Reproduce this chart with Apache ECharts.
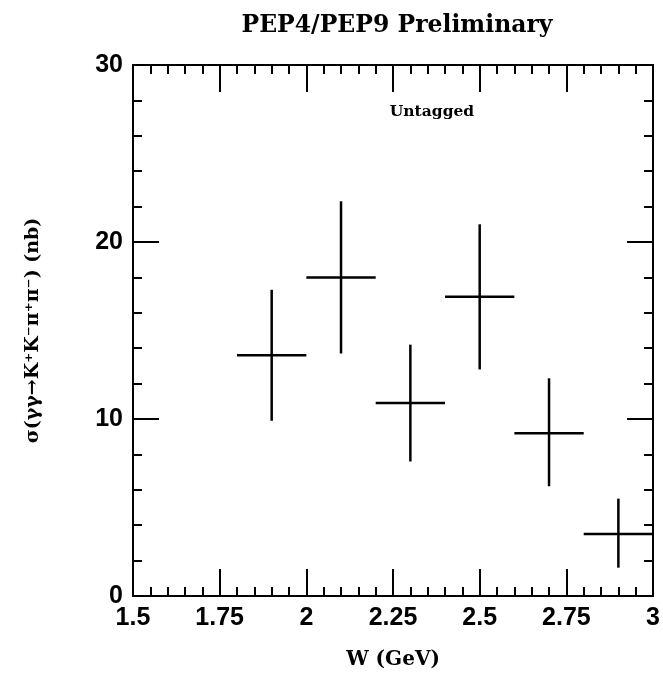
<!DOCTYPE html>
<html><head><meta charset="utf-8">
<script src="https://cdn.jsdelivr.net/npm/echarts@6/dist/echarts.min.js"></script>
<style>html,body{margin:0;padding:0;background:#fff}#c{width:663px;height:679px}</style>
</head><body><div id="c"></div>
<script>
// Data
const wCenter   = [1.9, 2.1, 2.3, 2.5, 2.7, 2.9];
const wLow      = [1.8, 2.0, 2.2, 2.4, 2.6, 2.8];
const wHigh     = [2.0, 2.2, 2.4, 2.6, 2.8, 3.0];
const sigma     = [13.6, 18.0, 10.9, 16.9, 9.2, 3.5];
const sigmaLow  = [9.9, 13.7, 7.6, 12.8, 6.2, 1.6];
const sigmaHigh = [17.3, 22.3, 14.2, 21.0, 12.3, 5.5];
const xTickLabels = ['1.5', '1.75', '2', '2.25', '2.5', '2.75', '3'];
const yTickLabels = ['0', '10', '20', '30'];

const chartTitle = 'PEP4/PEP9 Preliminary';
const xTitle = 'W (GeV)';
const yTitle = 'σ(γγ→K⁺K⁻π⁺π⁻) (nb)';
const tagText = 'Untagged';

const points = wCenter.map((w, i) => [w, sigma[i], wLow[i], wHigh[i], sigmaLow[i], sigmaHigh[i]]);

const serifBold = { fontFamily: 'DejaVu Serif', fontWeight: 'bold', color: '#000' };
const lineStyle = { color: '#000', width: 2 };

function xAxisDef(pos, showLabels) {
  return {
    type: 'value', position: pos, min: 1.5, max: 3, interval: 0.25,
    axisLine: { show: true, onZero: false, lineStyle },
    axisTick: { show: true, inside: true, length: 27, lineStyle },
    minorTick: { show: true, splitNumber: 5, length: 9, lineStyle },
    splitLine: { show: false }, minorSplitLine: { show: false },
    axisLabel: {
      show: showLabels, margin: 10, fontFamily: 'Liberation Sans', fontWeight: 'bold', fontSize: 25, color: '#000',
      formatter: v => xTickLabels[Math.round((v - 1.5) / 0.25)]
    },
    name: showLabels ? xTitle : '', nameLocation: 'middle', nameGap: 54,
    nameTextStyle: Object.assign({ fontSize: 20 }, serifBold)
  };
}
function yAxisDef(pos, showLabels) {
  return {
    type: 'value', position: pos, min: 0, max: 30, interval: 10,
    axisLine: { show: true, onZero: false, lineStyle },
    axisTick: { show: true, inside: true, length: 26, lineStyle },
    minorTick: { show: true, splitNumber: 5, length: 9, lineStyle },
    splitLine: { show: false }, minorSplitLine: { show: false },
    axisLabel: {
      show: showLabels, margin: 10, fontFamily: 'Liberation Sans', fontWeight: 'bold', fontSize: 25, color: '#000',
      formatter: v => yTickLabels[Math.round(v / 10)]
    },
    name: showLabels ? yTitle : '', nameLocation: 'middle', nameGap: 90, nameRotate: 90,
    nameTextStyle: Object.assign({ fontSize: 19 }, serifBold)
  };
}

const chart = echarts.init(document.getElementById('c'), null, { renderer: 'canvas' });
chart.setOption({
  animation: false,
  backgroundColor: '#fff',
  grid: { left: 133, right: 6, top: 65, bottom: 83 },
  xAxis: [xAxisDef('bottom', true), xAxisDef('top', false)],
  yAxis: [yAxisDef('left', true), yAxisDef('right', false)],
  graphic: [
    { type: 'text', x: 397, y: 26, style: { text: chartTitle, fontSize: 23.5, fontFamily: 'DejaVu Serif', fontWeight: 'bold', fill: '#000', align: 'center', verticalAlign: 'middle' } },
    { type: 'text', x: 432, y: 112, style: { text: tagText, fontSize: 15.5, fontFamily: 'DejaVu Serif', fontWeight: 'bold', fill: '#000', align: 'center', verticalAlign: 'middle' } }
  ],
  series: [{
    type: 'custom',
    xAxisIndex: 0, yAxisIndex: 0,
    data: points,
    encode: { x: [0, 2, 3], y: [1, 4, 5] },
    clip: false,
    renderItem: function (params, api) {
      const l = api.coord([api.value(2), api.value(1)]);
      const r = api.coord([api.value(3), api.value(1)]);
      const b = api.coord([api.value(0), api.value(4)]);
      const t = api.coord([api.value(0), api.value(5)]);
      const st = { stroke: '#000', lineWidth: 2.5 };
      return {
        type: 'group', children: [
          { type: 'line', shape: { x1: l[0], y1: l[1], x2: r[0], y2: r[1] }, style: st },
          { type: 'line', shape: { x1: t[0], y1: t[1], x2: b[0], y2: b[1] }, style: st }
        ]
      };
    }
  }]
});
</script>
</body></html>
